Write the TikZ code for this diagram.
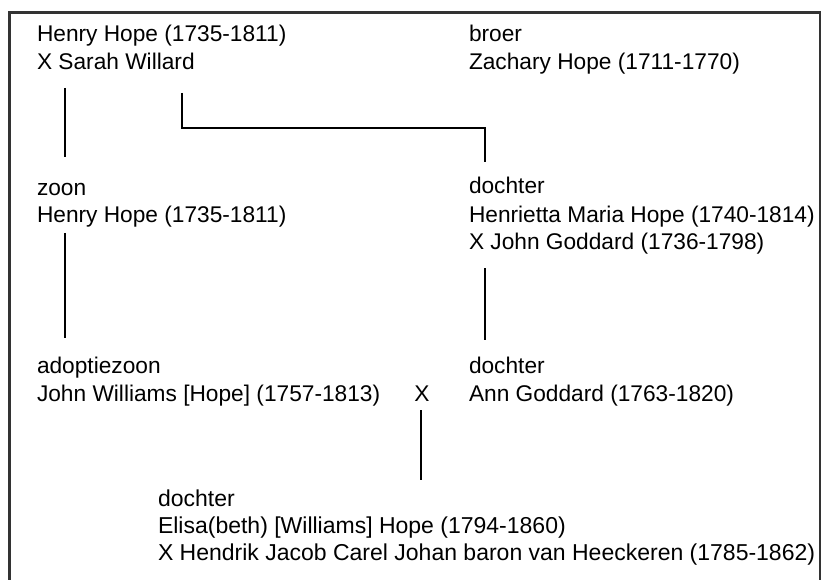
\documentclass[tikz,border=0pt]{standalone}
\usepackage{fontspec}
\setmainfont{Liberation Sans}
\usetikzlibrary{calc}
\definecolor{framegray}{HTML}{333333}
\tikzset{
  person/.style={anchor=north west, inner sep=0pt, outer sep=0pt, align=left,
    font=\fontsize{22.7}{28}\selectfont},
  personb/.style={person, font=\fontsize{23}{27}\selectfont},
  link/.style={draw=black, line width=2pt},
  frame/.style={draw=framegray, line width=2.5pt}
}
\begin{document}
\begin{tikzpicture}[x=1pt,y=-1pt]
\useasboundingbox (0,0) rectangle (822,580);
\draw[frame] (9.5,585) -- (9.5,12.5) -- (820,12.5) -- (820,585);

\node[person] (henry1) at (37,22.4) {\strut Henry Hope (1735-1811)\\X Sarah Willard};
\node[person] (zachary) at (469,22.4) {\strut broer\\Zachary Hope (1711-1770)};
\node[person] (henry2) at (37,175.4) {\strut zoon\\Henry Hope (1735-1811)};
\node[person] (henrietta) at (469,174.4) {\strut dochter\\Henrietta Maria Hope (1740-1814)\\X John Goddard (1736-1798)};
\node[person] (john) at (37,353.4) {\strut adoptiezoon\\John Williams [Hope] (1757-1813)};
\node[person] (ann) at (469,353.4) {\strut dochter\\Ann Goddard (1763-1820)};
\node[anchor=base, inner sep=0pt, font=\fontsize{22.7}{28}\selectfont] (marr) at (422,401) {X};
\node[personb] (elisa) at (158,487.1) {\strut dochter\\Elisa(beth) [Williams] Hope (1794-1860)\\X Hendrik Jacob Carel Johan baron van Heeckeren (1785-1862)};

% connectors
\draw[link] ($(henry1.north west)+(28,65.6)$) -- ($(henry2.north west)+(28,-18.4)$);
\draw[link] ($(henry1.north west)+(145,70.6)$) |- ($(henrietta.north west)+(16,-46.4)$) -- ($(henrietta.north west)+(16,-12.4)$);
\draw[link] ($(henry2.north west)+(28,57.6)$) -- ($(john.north west)+(28,-15.4)$);
\draw[link] ($(henrietta.north west)+(16,93.6)$) -- ($(ann.north west)+(16,-13.4)$);
\draw[link] ($(marr.base)+(-1,9)$) -- ($(elisa.north west)+(263,-7.1)$);
\end{tikzpicture}
\end{document}
